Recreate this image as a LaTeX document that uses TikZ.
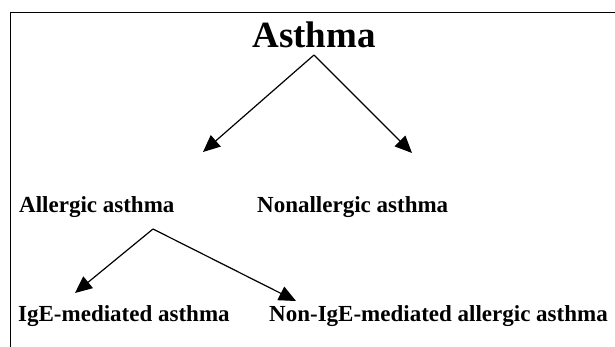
\documentclass[tikz,border=0pt]{standalone}
\usepackage{fontspec}
\setmainfont{Liberation Serif}
\usetikzlibrary{arrows.meta}
\tikzset{
  kind/.style={font=\fontsize{23}{27}\selectfont\bfseries,inner sep=0pt,anchor=base west},
  branch/.style={line width=1.2pt,-{Triangle[length=17pt,width=15pt]}},
}
\begin{document}
\begin{tikzpicture}[x=1pt,y=-1pt]
  \useasboundingbox (0,0) rectangle (615,347);
  \draw[line width=1.5pt] (10.5,347) -- (10.5,12.5) -- (615,12.5);

  \node[font=\fontsize{37}{41}\selectfont\bfseries,inner sep=0pt,anchor=base] (asthma) at (314,48) {Asthma};
  \node[kind] (allergic) at (19,213) {Allergic asthma};
  \node[kind] (nonallergic) at (257,213) {Nonallergic asthma};
  \node[kind] (ige) at (18,321) {IgE-mediated asthma};
  \node[kind] (nonige) at (269,321) {Non-IgE-mediated allergic asthma};

  % split points and arrow ends
  \coordinate (split1) at (314,55);
  \coordinate (split2) at (153,229);
  \coordinate (allergic tip) at (203,152);
  \coordinate (nonallergic tip) at (412,153);
  \coordinate (ige tip) at (75,293);
  \coordinate (nonige tip) at (296,301);

  \draw[branch] (split1) -- (allergic tip);
  \draw[branch] (split1) -- (nonallergic tip);
  \draw[branch] (split2) -- (ige tip);
  \draw[branch] (split2) -- (nonige tip);
\end{tikzpicture}
\end{document}
